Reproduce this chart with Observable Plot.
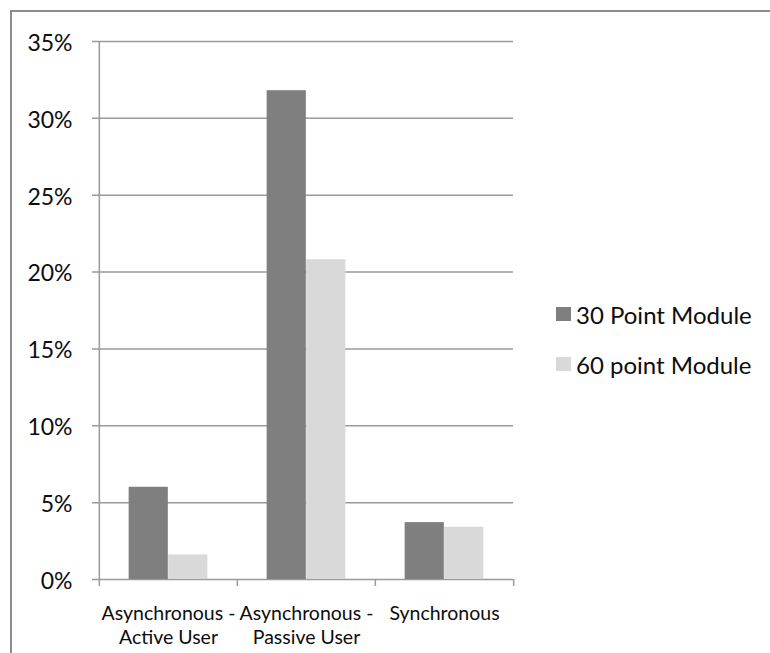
<!DOCTYPE html>
<html><head><meta charset="utf-8">
<script src="https://cdn.jsdelivr.net/npm/d3@7"></script>
<script src="https://cdn.jsdelivr.net/npm/@observablehq/plot@0.6"></script>
<style>
html,body{margin:0;padding:0;background:#fff;}
#wrap{position:relative;width:770px;height:653px;overflow:hidden;font-family:Lato,sans-serif;}
#border{position:absolute;left:10px;top:10px;width:800px;height:700px;border-top:2px solid #8c8c8c;border-left:2px solid #8c8c8c;pointer-events:none;}
#legend{position:absolute;left:556px;top:289px;}
.item{display:flex;align-items:center;height:50px;font-size:24px;color:#0d0d0d;white-space:nowrap;}
.sw{width:15px;height:14px;margin-right:5px;flex:none;}
</style></head><body>
<div id="wrap"><div id="border"></div><div id="legend"></div></div>
<script>
const categories = ["Asynchronous - Active User", "Asynchronous - Passive User", "Synchronous"];
const categoryLabels = ["Asynchronous -\nActive User", "Asynchronous -\nPassive User", "Synchronous"];
const series = ["30 Point Module", "60 point Module"];
const values30 = [0.060, 0.318, 0.037];
const values60 = [0.016, 0.208, 0.034];
const yTicks = [0, 0.05, 0.10, 0.15, 0.20, 0.25, 0.30, 0.35];
const colors = ["#7f7f7f", "#d9d9d9"];

const W = 770, H = 653, mL = 98, mR = 257, mT = 41, mB = 74;
const step = (W - mL - mR) / categories.length;
const bw = step / 3.5; // Excel gap width 150%
const gridColor = "#9a9a9a";

const rows30 = categories.map((c, i) => ({category: c, series: series[0], value: values30[i]}));
const rows60 = categories.map((c, i) => ({category: c, series: series[1], value: values60[i]}));

const chart = Plot.plot({
  width: W, height: H,
  marginLeft: mL, marginRight: mR, marginTop: mT, marginBottom: mB,
  style: {fontFamily: "Lato, sans-serif", background: "transparent", color: "#0d0d0d"},
  x: {type: "band", domain: categories, padding: 0, axis: null},
  y: {domain: [0, 0.35], axis: null},
  marks: [
    Plot.ruleY(yTicks, {y: d => d, stroke: gridColor, strokeWidth: 1.5, insetLeft: -6}),
    Plot.barY(rows30, {x: "category", y: "value", fill: colors[0], insetLeft: 0.75 * bw, insetRight: 1.75 * bw}),
    Plot.barY(rows60, {x: "category", y: "value", fill: colors[1], insetLeft: 1.75 * bw, insetRight: 0.75 * bw}),
    Plot.ruleX([categories[0]], {x: d => d, y1: 0.35, y2: 0, dx: -step / 2, insetBottom: -7, stroke: gridColor, strokeWidth: 1.5}),
    Plot.ruleX(categories.slice(1), {x: d => d, y1: 0, y2: 0, dx: -step / 2, insetBottom: -7, stroke: gridColor, strokeWidth: 1.5}),
    Plot.ruleX(categories.slice(-1), {x: d => d, y1: 0, y2: 0, dx: step / 2, insetBottom: -7, stroke: gridColor, strokeWidth: 1.5}),
    Plot.text(yTicks, {y: d => d, text: d => `${Math.round(d * 100)}%`, frameAnchor: "left", textAnchor: "end", dx: -26, dy: 2, fontSize: 23, fill: "#0d0d0d"}),
    Plot.text(categories, {x: d => d, text: (d, i) => categoryLabels[i], frameAnchor: "bottom", lineAnchor: "top", dy: 23, fontSize: 19.5, lineHeight: 1.23, fill: "#0d0d0d"})
  ]
});
document.getElementById("wrap").appendChild(chart);

const legend = document.getElementById("legend");
series.forEach((s, i) => {
  const item = document.createElement("div");
  item.className = "item";
  const sw = document.createElement("span");
  sw.className = "sw";
  sw.style.background = colors[i];
  const label = document.createElement("span");
  label.textContent = s;
  item.appendChild(sw);
  item.appendChild(label);
  legend.appendChild(item);
});
</script>
</body></html>
